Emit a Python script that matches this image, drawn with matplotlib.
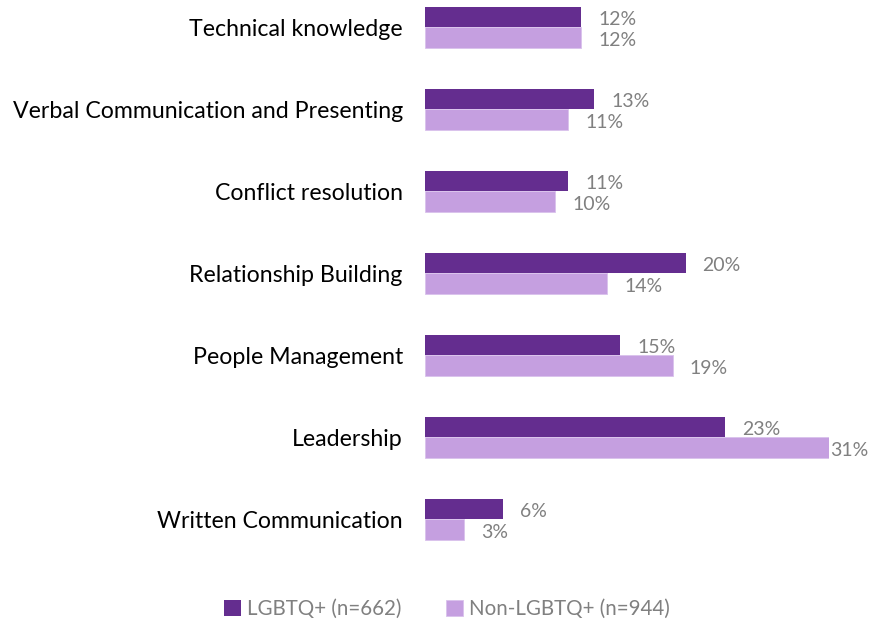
import matplotlib.pyplot as plt
import numpy as np

plt.rcParams['font.family'] = ['Lato', 'DejaVu Sans']

# Skill categories, top to bottom
skills = ['Technical knowledge', 'Verbal Communication and Presenting',
          'Conflict resolution', 'Relationship Building', 'People Management',
          'Leadership', 'Written Communication']
lgbtq = [12, 13, 11, 20, 15, 23, 6]
non_lgbtq = [12, 11, 10, 14, 19, 31, 3]
legend_labels = ['LGBTQ+ (n=662)', 'Non-LGBTQ+ (n=944)']

col_dark = '#642D8F'
col_light = '#C59FE0'
col_text = '#808080'

fig = plt.figure(figsize=(8.8, 6.22), dpi=100)
ax = fig.add_axes([425 / 880, 1 - 574 / 622, (829 - 425) / 880, 574 / 622])

y = np.arange(len(skills))
h = 0.25
ax.barh(y - h / 2, lgbtq, height=h, color=col_dark, label=legend_labels[0])
ax.barh(y + h / 2, non_lgbtq, height=h, color=col_light, edgecolor='#D9C2EC',
        linewidth=0.6, label=legend_labels[1])

xmax = max(non_lgbtq + lgbtq)
ax.set_xlim(0, xmax)
ax.set_ylim(6.67, -0.33)

# value labels next to bars, kept inside the right edge
dy = 0.035
for yy, v in zip(y, lgbtq):
    ax.text(min(v + 1.3, xmax + 0.05), yy - h / 2 + dy, f'{v}%', va='center', ha='left',
            fontsize=14, color=col_text, clip_on=False)
for yy, v in zip(y, non_lgbtq):
    ax.text(min(v + 1.3, xmax + 0.05), yy + h / 2 + dy, f'{v}%', va='center', ha='left',
            fontsize=14, color=col_text, clip_on=False)

ax.set_yticks(y)
ax.set_yticklabels(skills, fontsize=16.7, color='black')
ax.tick_params(axis='y', length=0, pad=16)
ax.set_xticks([])
for s in ax.spines.values():
    s.set_visible(False)

fig.legend(loc='center', bbox_to_anchor=(0.508, 1 - 609 / 622), ncol=2, frameon=False,
           fontsize=14.8, labelcolor=col_text, handlelength=0.8, handleheight=0.8,
           handletextpad=0.3, columnspacing=2.2)

plt.savefig('out.png', dpi=100)
